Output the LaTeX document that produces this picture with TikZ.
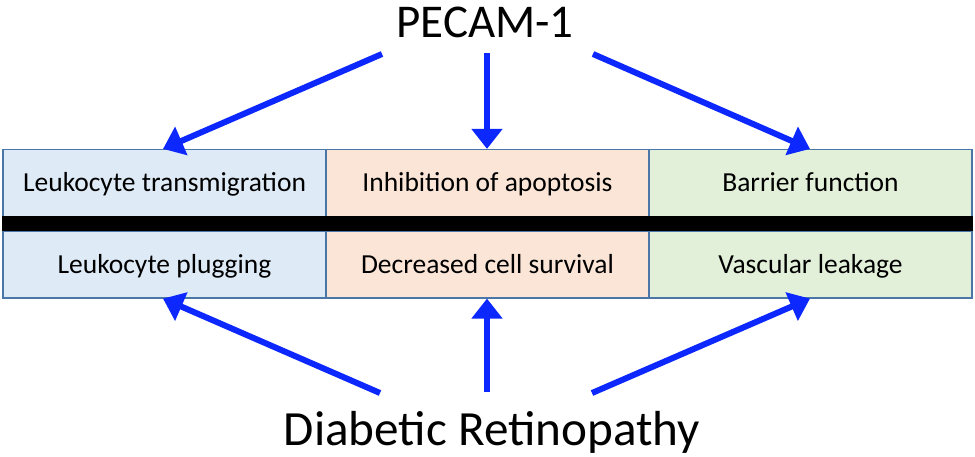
\documentclass[tikz,border=0pt]{standalone}
\usepackage{fontspec}
\setmainfont{Carlito}
\usetikzlibrary{arrows.meta}
\definecolor{arrowblue}{RGB}{12,40,255}
\definecolor{cellborder}{RGB}{74,118,168}
\definecolor{fillblue}{RGB}{222,235,247}
\definecolor{fillpeach}{RGB}{251,229,214}
\definecolor{fillgreen}{RGB}{226,240,217}
\tikzset{
  cell/.style={draw=cellborder, line width=1.2pt, rectangle, inner sep=0pt,
    minimum width=323pt, minimum height=67pt, text height=17pt, text depth=0pt,
    font=\fontsize{27.5}{32}\selectfont},
  conn/.style={draw=arrowblue, line width=6pt,
    -{Triangle[width=30pt,length=20pt]}, shorten >=0pt},
  title/.style={inner sep=0pt, anchor=base, text height=28pt, text depth=0pt},
}
\begin{document}
\begin{tikzpicture}[x=1pt,y=-1pt]
\useasboundingbox[fill=white] (0,0) rectangle (975,456);
% cells
\node[cell, fill=fillblue]  (c1t) at (164.5,183) {Leukocyte transmigration};
\node[cell, fill=fillpeach] (c2t) at (487.5,183) {Inhibition of apoptosis};
\node[cell, fill=fillgreen] (c3t) at (810.5,183) {Barrier function};
\node[cell, fill=fillblue]  (c1b) at (164.5,264.5) {Leukocyte plugging};
\node[cell, fill=fillpeach] (c2b) at (487.5,264.5) {Decreased cell survival};
\node[cell, fill=fillgreen] (c3b) at (810.5,264.5) {Vascular leakage};
% black bar
\fill[black] (2,216) rectangle (973,231);
% titles
\node[title, font=\fontsize{47}{56}\selectfont] (pecam) at (485,37) {PECAM-1};
\node[title, font=\fontsize{49.2}{58}\selectfont] (dr) at (492,445) {Diabetic Retinopathy};
% arrow start points
\coordinate (pL) at (382,54);
\coordinate (pC) at (487,53);
\coordinate (pR) at (593,54);
\coordinate (dL) at (380,393);
\coordinate (dC) at (487,392);
\coordinate (dR) at (592,393);
% arrows
\draw[conn] (pL) -- ([xshift=-1.5pt]c1t.north);
\draw[conn] (pC) -- ([xshift=-0.5pt]c2t.north);
\draw[conn] (pR) -- ([xshift=-0.5pt]c3t.north);
\draw[conn] (dL) -- ([xshift=-1.5pt]c1b.south);
\draw[conn] (dC) -- ([xshift=-0.5pt]c2b.south);
\draw[conn] (dR) -- ([xshift=-0.5pt]c3b.south);
\end{tikzpicture}
\end{document}
